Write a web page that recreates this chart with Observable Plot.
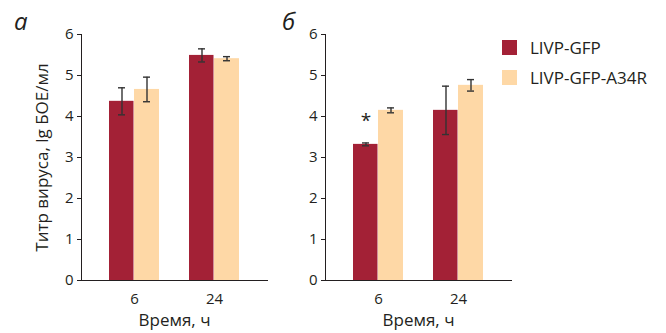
<!DOCTYPE html>
<html>
<head>
<meta charset="utf-8">
<script src="https://cdn.jsdelivr.net/npm/d3@7"></script>
<script src="https://cdn.jsdelivr.net/npm/@observablehq/plot@0.6"></script>
<style>
  html, body { margin: 0; padding: 0; background: #fff; }
  #wrap { position: relative; width: 666px; height: 333px; font-family: "Open Sans", sans-serif; color: #231f20; overflow: hidden; }
  .pl { position: absolute; top: 0; }
  .panel-label { position: absolute; font-size: 24px; font-style: italic; line-height: 1; }
  .legend { position: absolute; left: 502px; top: 36px; font-size: 17px; }
  .legend .row { display: flex; align-items: center; height: 23px; margin-bottom: 7px; }
  .legend .sw { width: 15px; height: 15px; margin-right: 13px; }
</style>
</head>
<body>
<div id="wrap">
  <div class="panel-label" style="left:14px; top:9px;">а</div>
  <div class="panel-label" style="left:282px; top:9px;">б</div>
  <div class="legend" id="legend"></div>
</div>
<script>
const times = ["6", "24"];
const series = ["LIVP-GFP", "LIVP-GFP-A34R"];
const colors = ["#a32136", "#fed8a6"];
const yTicks = [0, 1, 2, 3, 4, 5, 6];
const xLabel = "Время, ч";
const yLabel = "Титр вируса, lg БОЕ/мл";

// Panel а
const aGfp = [4.37, 5.49];
const aGfpErr = [0.33, 0.16];
const aA34 = [4.66, 5.41];
const aA34Err = [0.30, 0.05];
// Panel б
const bGfp = [3.32, 4.15];
const bGfpErr = [0.035, 0.59];
const bA34 = [4.15, 4.76];
const bA34Err = [0.06, 0.14];
const bStars = [{time: "6", y: 3.9}];

function panel(gfp, gfpErr, a34, a34Err, stars, yLabels) {
  const rows = times.map((t, i) => ({time: t, gfp: gfp[i], ge: gfpErr[i], a34: a34[i], ae: a34Err[i]}));
  const ink = "#333";
  return Plot.plot({
    width: 268,
    height: 333,
    marginLeft: 81,
    marginRight: 1,
    marginTop: 34,
    marginBottom: 53,
    style: {fontFamily: "Open Sans", fontSize: "15px", color: "#231f20", background: "transparent", maxWidth: "none", overflow: "visible"},
    x: {domain: times, paddingInner: 0.375, paddingOuter: 0.35, tickSize: 0, tickPadding: 13, label: null, line: true},
    y: {domain: [0, 6], ticks: yTicks, tickFormat: "d", tickSize: 4, tickPadding: 4, label: null, line: true},
    marks: [
      Plot.barY(rows, {x: "time", y: "gfp", fill: colors[0], insetRight: 25.5}),
      Plot.barY(rows, {x: "time", y: "a34", fill: colors[1], insetLeft: 25}),
      Plot.ruleX(rows, {x: "time", y1: d => d.gfp - d.ge, y2: d => d.gfp + d.ge, dx: -12.5, stroke: ink, strokeWidth: 1.4}),
      Plot.tickY(rows, {x: "time", y: d => d.gfp + d.ge, insetLeft: 9, insetRight: 34, stroke: ink, strokeWidth: 1.4}),
      Plot.tickY(rows, {x: "time", y: d => d.gfp - d.ge, insetLeft: 9, insetRight: 34, stroke: ink, strokeWidth: 1.4}),
      Plot.ruleX(rows, {x: "time", y1: d => d.a34 - d.ae, y2: d => d.a34 + d.ae, dx: 12.5, stroke: ink, strokeWidth: 1.4}),
      Plot.tickY(rows, {x: "time", y: d => d.a34 + d.ae, insetLeft: 34, insetRight: 9, stroke: ink, strokeWidth: 1.4}),
      Plot.tickY(rows, {x: "time", y: d => d.a34 - d.ae, insetLeft: 34, insetRight: 9, stroke: ink, strokeWidth: 1.4}),
      Plot.text(stars, {x: "time", y: "y", text: () => "*", dx: -12.5, fontSize: 19, fill: "#231f20"}),
      Plot.text([xLabel], {text: d => d, frameAnchor: "bottom", lineAnchor: "top", dy: 33, fontSize: 17, fill: "#231f20"}),
      Plot.text(yLabels, {text: d => d, frameAnchor: "left", textAnchor: "middle", dx: -39, rotate: -90, fontSize: 17, fill: "#231f20"})
    ]
  });
}

const wrap = document.getElementById("wrap");
const pa = panel(aGfp, aGfpErr, aA34, aA34Err, [], [yLabel]);
pa.classList.add("pl"); pa.style.position = "absolute"; pa.style.left = "0px"; pa.style.top = "0px";
const pb = panel(bGfp, bGfpErr, bA34, bA34Err, bStars, []);
pb.classList.add("pl"); pb.style.position = "absolute"; pb.style.left = "244px"; pb.style.top = "0px";
wrap.appendChild(pa);
wrap.appendChild(pb);

const legend = document.getElementById("legend");
series.forEach((s, i) => {
  const row = document.createElement("div");
  row.className = "row";
  const sw = document.createElement("div");
  sw.className = "sw";
  sw.style.background = colors[i];
  const lab = document.createElement("span");
  lab.textContent = s;
  row.appendChild(sw);
  row.appendChild(lab);
  legend.appendChild(row);
});
</script>
</body>
</html>
